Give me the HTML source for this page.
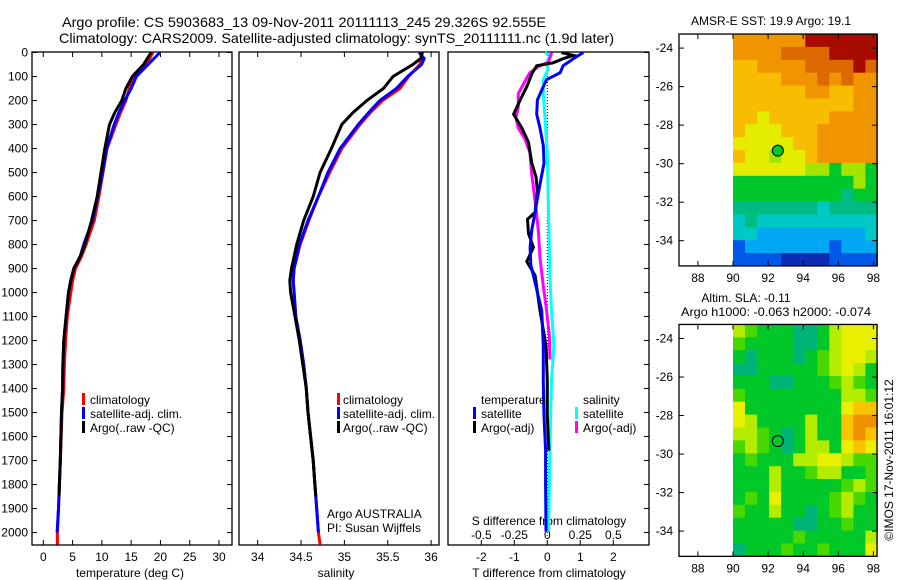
<!DOCTYPE html>
<html><head><meta charset="utf-8"><style>
body{margin:0;background:#fff}
svg{display:block;font-family:"Liberation Sans",sans-serif}
text{fill:#000}
</style></head><body>
<svg id="c" width="900" height="580" viewBox="0 0 900 580" xmlns="http://www.w3.org/2000/svg">
<text x="62" y="27" font-size="14" textLength="484" lengthAdjust="spacingAndGlyphs">Argo profile: CS 5903683_13 09-Nov-2011 20111113_245 29.326S 92.555E</text>
<text x="59" y="43" font-size="14" textLength="555" lengthAdjust="spacingAndGlyphs">Climatology: CARS2009. Satellite-adjusted climatology: synTS_20111111.nc (1.9d later)</text>
<text x="771" y="25" font-size="12" text-anchor="middle">AMSR-E SST: 19.9 Argo: 19.1</text>
<text x="746" y="302" font-size="12" text-anchor="middle">Altim. SLA: -0.11</text>
<text x="776" y="316" font-size="12" text-anchor="middle" textLength="190" lengthAdjust="spacingAndGlyphs">Argo h1000: -0.063 h2000: -0.074</text>
<text transform="translate(893,460) rotate(-90)" font-size="12" text-anchor="middle">©IMOS 17-Nov-2011 16:01:12</text>
<g id="g"></g>
</svg>
<script>
// ---- Panel 1: temperature ----
const tDepthClim=[0,50,100,150,200,250,300,400,500,600,700,800,850,900,950,1000,1100,1200,1300,1400,1500,1600,1700,1800,1900,2000,2050];
const tClim=[18.7,17.6,15.6,14.7,14.1,13.2,12.4,10.9,10.2,9.5,8.7,7.3,6.5,5.5,5.0,4.7,4.1,3.8,3.6,3.5,3.2,3.05,2.9,2.75,2.6,2.4,2.4];
const tSat=[19.9,17.9,15.9,15.0,13.9,12.9,12.1,10.8,10.1,9.3,8.4,6.9,6.3,5.2,4.7,4.3,3.9,3.5,3.35,3.3,3.1,3.0,2.9,2.75,2.6,2.35];
const tDepthArgo=[0,50,100,150,200,250,300,400,500,600,700,800,850,900,950,1000,1100,1200,1300,1400,1500,1600,1700,1800,1850];
const tArgo=[18.4,17.1,15.2,14.1,13.4,12.2,11.3,10.5,9.85,9.2,8.25,7.1,6.3,5.2,4.7,4.3,3.9,3.5,3.35,3.3,3.1,3.0,2.9,2.75,2.7];
// ---- Panel 2: salinity ----
const sDepth=[0,25,50,100,150,200,250,300,400,500,600,700,800,900,950,1000,1100,1200,1300,1400,1500,1600,1700,1800,1900,2000,2050];
const sClim=[35.88,35.89,35.87,35.74,35.64,35.44,35.30,35.18,34.97,34.83,34.70,34.59,34.49,34.42,34.41,34.42,34.44,34.49,34.53,34.56,34.58,34.61,34.64,34.66,34.68,34.70,34.72];
const sSat=[35.86,35.92,35.89,35.73,35.60,35.41,35.28,35.16,34.95,34.81,34.70,34.58,34.48,34.42,34.41,34.42,34.44,34.49,34.53,34.56,34.58,34.61,34.64,34.66,34.68,34.70];
const sDepthArgo=[0,25,50,100,150,200,250,300,400,500,600,700,800,900,950,1000,1100,1200,1300,1400,1500,1600,1700,1800,1850];
const sArgo=[35.90,35.88,35.79,35.56,35.45,35.26,35.10,34.97,34.85,34.72,34.64,34.53,34.45,34.39,34.37,34.38,34.43,34.48,34.52,34.56,34.58,34.61,34.64,34.66,34.67];
// ---- Panel 3: differences ----
const dDepthBlue=[0,26,55,84,113,142,198,257,315,388,461,549,608,666,739,812,885,929,1075,1221,1367,1514,1659,1806,1995];
const dTSat=[1.09,0.79,0.48,0.39,-0.02,-0.12,-0.30,-0.32,-0.22,-0.12,-0.10,-0.22,-0.30,-0.37,-0.47,-0.52,-0.50,-0.42,-0.17,-0.12,-0.12,-0.10,-0.05,-0.05,-0.04];
const dDepthBlack=[0,12,26,43,55,84,142,198,257,315,374,461,520,579,666,695,754,812,871,929,1075,1221,1367,1514,1659];
const dTArgo=[0.43,0.79,0.48,0.18,-0.32,-0.45,-0.62,-0.82,-1.02,-0.77,-0.57,-0.47,-0.34,-0.30,-0.37,-0.60,-0.57,-0.42,-0.62,-0.37,-0.22,-0.04,0.0,0.0,0.05];
const dDepthMag=[0,41,55,84,113,171,229,271,315,359,417,505,622,739,856,973,1075,1177,1279];
const dSArgo=[0.033,0.008,-0.055,-0.132,-0.162,-0.22,-0.22,-0.238,-0.22,-0.17,-0.132,-0.118,-0.092,-0.068,-0.055,-0.03,-0.005,0.015,0.02];
const dDepthCyan=[0,12,41,70,113,171,271,417,637,929,1075,1221,1367,1514,1659,1806,1995];
const dSSat=[-0.018,0.02,0.0,0.005,-0.03,-0.03,-0.018,0.0,0.008,0.02,0.032,0.05,0.032,0.025,0.02,0.015,0.01];
// ---- Maps (12 cols x 18 rows, colour-level per cell) ----
const sstRows=["999999BBBBBB","9999AAAABBBB","889999AAAABA","8888999A9A99","888888998899","888888888899","887888889999","877788899999","777778899999","877677899999","777777665665","555555555565","555555555455","444444434444","343333333333","332222222223","122222221222","111100001111"];
const slaRows=["321110013444","211110013444","101110123443","001111123431","111001112321","211111111332","411111111455","431111311566","332101311565","232101331454","121113344322","111311233112","111311111232","121411112321","211311012311","111110011211","111112111113","011121121114"];
const sstColors=["#0c2cb4","#0058e8","#00a8f4","#00c8c4","#00bc84","#00c82c","#a4e400","#e4ec00","#f8bc00","#f09400","#dc6800","#a80c00"];
const slaColors=["#00b478","#00c828","#48d800","#b4ec00","#e8f000","#f8c400","#f09000"];
const argoLon=92.555, argoLat=-29.326;

const NS="http://www.w3.org/2000/svg";
const G=document.getElementById('g');
function el(tag,attrs,parent){const e=document.createElementNS(NS,tag);for(const k in attrs)e.setAttribute(k,attrs[k]);(parent||G).appendChild(e);return e;}
function txt(x,y,s,size,anchor){const t=el('text',{x:x,y:y,'font-size':size||12,'text-anchor':anchor||'middle'});t.textContent=s;return t;}
const yTop=52,yBot=545;
const py=d=>52.5+d*0.24;
const p1x=t=>43.3+t*5.857;
const p2x=s=>257.7+(s-34)*86.7;
const p3x=t=>547.3+t*33;
const p3s=s=>547.3+s*4*33;
function poly(xs,ds,fx,color,w,name){
  const pts=xs.map((v,i)=>fx(v).toFixed(1)+','+py(ds[i]).toFixed(1)).join(' ');
  const p=el('polyline',{points:pts,fill:'none',stroke:color,'stroke-width':w||3,'stroke-linejoin':'miter'});
  
  
}
function frame(x0,x1,name){
  const r=el('rect',{x:x0,y:yTop,width:x1-x0,height:yBot-yTop,fill:'none',stroke:'#000','stroke-width':1.3});
  
  
}
// Panel 1
frame(32,232,'temperature-panel');
const depthTicks=[0,100,200,300,400,500,600,700,800,900,1000,1100,1200,1300,1400,1500,1600,1700,1800,1900,2000];
depthTicks.forEach(d=>{const y=py(d);
  el('line',{x1:32,x2:37,y1:y,y2:y,stroke:'#000'});el('line',{x1:227,x2:232,y1:y,y2:y,stroke:'#000'});
  el('line',{x1:644,x2:649,y1:y,y2:y,stroke:'#000'});
  const t=txt(28,y+4,String(d),12,'end');});
const tTicks=[0,5,10,15,20,25,30];
tTicks.forEach(v=>{const x=p1x(v);el('line',{x1:x,x2:x,y1:yTop,y2:yTop+5,stroke:'#000'});el('line',{x1:x,x2:x,y1:yBot-5,y2:yBot,stroke:'#000'});
  const t=txt(x,561,String(v));});
let t1=txt(130,577,'temperature (deg C)');
poly(tClim,tDepthClim,p1x,'#ff0000',3,'temp-climatology-line');
poly(tSat,tDepthClim.slice(0,tSat.length),p1x,'#0000ff',3,'temp-satellite-line');
poly(tArgo,tDepthArgo,p1x,'#000000',3,'temp-argo-line');
// Panel 2
frame(239,439,'salinity-panel');
const sTicks=[34,34.5,35,35.5,36];
sTicks.forEach(v=>{const x=p2x(v);el('line',{x1:x,x2:x,y1:yTop,y2:yTop+5,stroke:'#000'});el('line',{x1:x,x2:x,y1:yBot-5,y2:yBot,stroke:'#000'});
  const t=txt(x,561,String(v));});
let t2=txt(336,577,'salinity');
poly(sClim,sDepth,p2x,'#ff0000',3,'sal-climatology-line');
poly(sSat,sDepth.slice(0,sSat.length),p2x,'#0000ff',3,'sal-satellite-line');
poly(sArgo,sDepthArgo,p2x,'#000000',3,'sal-argo-line');
// legends panel 1/2
function legend(mx,tx,items,prefix){items.forEach((it,i)=>{const y=399+i*14;
  el('rect',{x:mx,y:y-6,width:3,height:12,fill:it[1]});
  const t=txt(tx,y+5,it[0],12,'start');});}
const legItems=[['climatology','#ff0000'],['satellite-adj. clim.','#0000ff'],['Argo(..raw -QC)','#000000']];
legend(82,90,legItems,'temperature');
legend(337,343,legItems,'salinity');
let a1=txt(327,518,'Argo AUSTRALIA',12,'start');
let a2=txt(327,532,'PI: Susan Wijffels',12,'start');
// Panel 3
frame(448,649,'difference-panel');
el('line',{x1:547.3,x2:547.3,y1:yTop,y2:yBot,stroke:'#000','stroke-dasharray':'1,2'});
const dTTicks=[-2,-1,0,1,2];
dTTicks.forEach(v=>{const x=p3x(v);el('line',{x1:x,x2:x,y1:yBot-5,y2:yBot,stroke:'#000'});
  const t=txt(x,561,String(v));});
const dSTicks=[-0.5,-0.25,0,0.25,0.5];
dSTicks.forEach(v=>{const t=txt(p3s(v),539,String(v));});
let t3=txt(549,577,'T difference from climatology');
let t4=txt(549,525,'S difference from climatology');
poly(dSSat,dDepthCyan,p3s,'#00ffff',3,'s-diff-satellite-line');
poly(dSArgo,dDepthMag,p3s,'#ff00ff',3,'s-diff-argo-line');
poly(dTArgo,dDepthBlack,p3x,'#000000',3,'t-diff-argo-line');
poly(dTSat,dDepthBlue,p3x,'#0000ff',3,'t-diff-satellite-line');
let l1=txt(481,404,'temperature',12,'start');
let l2=txt(583,404,'salinity',12,'start');
[['satellite','#0000ff',473,481],['Argo(-adj)','#000000',473,481]].forEach((it,i)=>{const y=413+i*14;el('rect',{x:it[2],y:y-6,width:3,height:12,fill:it[1]});const t=txt(it[3],y+5,it[0],12,'start');});
[['satellite','#00ffff',575,583],['Argo(-adj)','#ff00ff',575,583]].forEach((it,i)=>{const y=413+i*14;el('rect',{x:it[2],y:y-6,width:3,height:12,fill:it[1]});const t=txt(it[3],y+5,it[0],12,'start');});
// Maps
const mx=lon=>733+(lon-90)*17.55;
function drawMap(rows,colors,yOff,name){
  const my=lat=>yOff+(-24-lat)*19.26;
  const lonE=98.23,latN=-23.27,latS=-35.31;
  const nc=rows[0].length,nr=rows.length;
  const dlon=(lonE-90)/nc,dlat=(latN-latS)/nr;
  rows.forEach((row,r)=>{for(let c=0;c<nc;c++){
    const x0=mx(90+c*dlon),x1=mx(90+(c+1)*dlon),y0=my(latN-r*dlat),y1=my(latN-(r+1)*dlat);
    const cell=el('rect',{x:x0.toFixed(1),y:y0.toFixed(1),width:(x1-x0+0.6).toFixed(1),height:(y1-y0+0.6).toFixed(1),fill:colors[parseInt(row[c],16)]});
    
    
  }});
  const top=my(latN),bot=my(latS);
  const f=el('rect',{x:679,y:top,width:198,height:bot-top,fill:'none',stroke:'#000','stroke-width':1.3});
  
  
  [-24,-26,-28,-30,-32,-34].forEach(v=>{const y=my(v);el('line',{x1:679,x2:684,y1:y,y2:y,stroke:'#000'});el('line',{x1:872,x2:877,y1:y,y2:y,stroke:'#000'});
    const t=txt(673,y+4,String(v),12,'end');});
  [88,90,92,94,96,98].forEach(v=>{const x=mx(v);el('line',{x1:x,x2:x,y1:bot-5,y2:bot,stroke:'#000'});el('line',{x1:x,x2:x,y1:top,y2:top+5,stroke:'#000'});
    const t=txt(x,bot+16,String(v));});
  return my;
}
const my1=drawMap(sstRows,sstColors,48.1,'sst-map');
const c1=el('circle',{cx:mx(argoLon),cy:my1(argoLat),r:5.5,fill:'#00c82c',stroke:'#000','stroke-width':1});


const my2=drawMap(slaRows,slaColors,338.5,'sla-map');
const c2=el('circle',{cx:mx(argoLon),cy:my2(argoLat),r:5.5,fill:'none',stroke:'#000','stroke-width':1});


</script>
</body></html>
